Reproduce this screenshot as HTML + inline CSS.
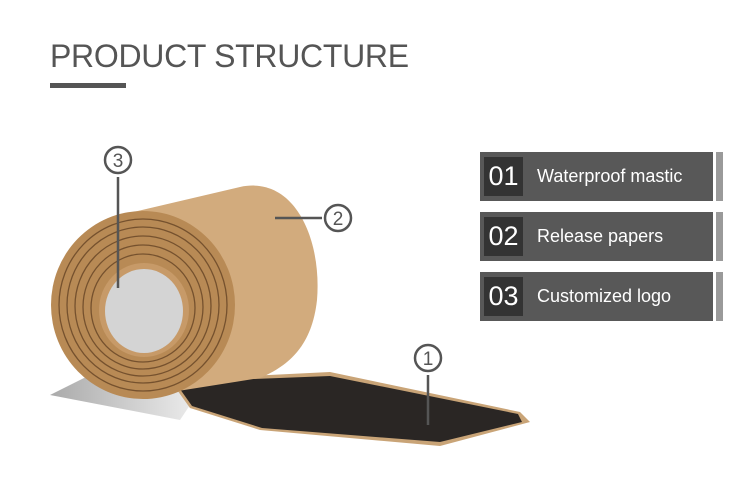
<!DOCTYPE html>
<html><head><style>
body{margin:0;width:750px;height:487px;background:#fff;overflow:hidden;font-family:"Liberation Sans","DejaVu Sans",sans-serif;position:relative}
.t{position:absolute;left:50px;top:38px;font-size:32px;color:#555;letter-spacing:-0.3px}
.u{position:absolute;left:50px;top:83px;width:76px;height:5px;background:#555}
.b{position:absolute;left:480px;width:233px;height:49px;background:#585858}
.s{position:absolute;left:716px;width:7px;height:49px;background:#9a9a9a}
.n{position:absolute;left:4px;top:5px;width:39px;height:39px;background:#333;color:#fff;font-size:27px;line-height:39px;text-align:center}
.l{position:absolute;left:57px;top:0;line-height:49px;color:#fff;font-size:18px}
</style></head><body>
<div class="t">PRODUCT STRUCTURE</div><div class="u"></div>
<div class="b" style="top:152px"><div class="n">01</div><div class="l">Waterproof mastic</div></div><div class="s" style="top:152px"></div>
<div class="b" style="top:212px"><div class="n">02</div><div class="l">Release papers</div></div><div class="s" style="top:212px"></div>
<div class="b" style="top:272px"><div class="n">03</div><div class="l">Customized logo</div></div><div class="s" style="top:272px"></div>
<svg width="750" height="487" style="position:absolute;left:0;top:0">
<defs><linearGradient id="sh" x1="0" x2="1"><stop offset="0" stop-color="#aaa"/><stop offset="1" stop-color="#eee"/></linearGradient></defs>
<polygon points="50,395 90,375 200,390 180,420" fill="url(#sh)"/>
<polygon points="170,380 330,372 520,412 530,422 440,446 260,430 190,408" fill="#c9a477"/>
<polygon points="175,382 330,376 518,414 522,422 440,442 262,428 192,406" fill="#2a2624"/>
<path d="M125,214 L240,187 C295,175 322,240 317,300 C312,345 290,365 260,378 L140,397 Z" fill="#d2ab7d"/>
<ellipse cx="143" cy="305" rx="92" ry="94" fill="#b88a55"/>
<g fill="none" stroke="#5a3a1e" stroke-width="1.3" opacity="0.7">
<ellipse cx="143" cy="305" rx="84" ry="86"/><ellipse cx="143" cy="305" rx="76" ry="78"/><ellipse cx="143" cy="306" rx="68" ry="70"/><ellipse cx="143" cy="307" rx="60" ry="62"/><ellipse cx="143" cy="308" rx="52" ry="54"/></g>
<ellipse cx="144" cy="310" rx="45" ry="47" fill="#c79a68"/>
<ellipse cx="144" cy="311" rx="39" ry="42" fill="#d4d4d4"/>
<g stroke="#555" stroke-width="2.5" fill="none">
<line x1="118" y1="177" x2="118" y2="288"/>
<line x1="275" y1="218" x2="322" y2="218"/>
<line x1="428" y1="375" x2="428" y2="425"/>
<circle cx="118" cy="160" r="13"/><circle cx="338" cy="218" r="13"/><circle cx="428" cy="358" r="13"/></g>
<g fill="#555" font-size="19" text-anchor="middle" font-family="Liberation Sans,sans-serif">
<text x="118" y="167">3</text><text x="338" y="225">2</text><text x="428" y="365">1</text></g>
</svg>
</body></html>
